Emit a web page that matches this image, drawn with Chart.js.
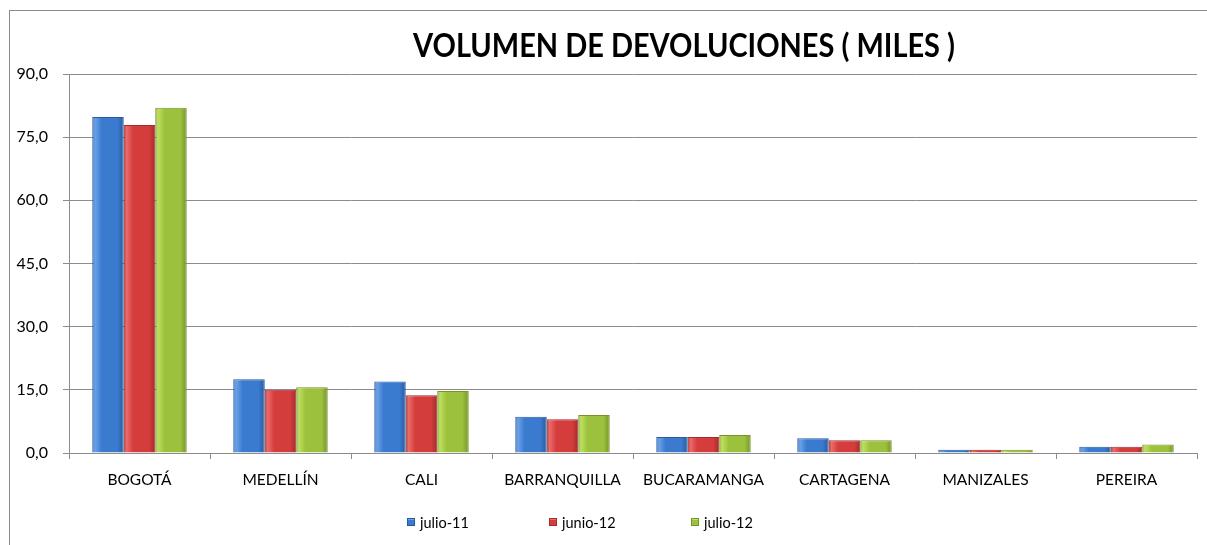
<!DOCTYPE html>
<html>
<head>
<meta charset="utf-8">
<script src="https://cdn.jsdelivr.net/npm/chart.js@4.4.1/dist/chart.umd.min.js"></script>
<style>
  html,body{margin:0;padding:0;background:#fff;}
  #wrap{position:relative;width:1207px;height:545px;}
  #frame{position:absolute;left:9px;top:10px;right:0;bottom:0;border-top:1px solid #8c8c8c;border-left:1px solid #8c8c8c;pointer-events:none;}
  canvas{position:absolute;left:0;top:0;}
</style>
</head>
<body>
<div id="wrap"><canvas id="c" width="1207" height="545"></canvas><div id="frame"></div></div>
<script>
const categories = ["BOGOTÁ","MEDELLÍN","CALI","BARRANQUILLA","BUCARAMANGA","CARTAGENA","MANIZALES","PEREIRA"];
const seriesNames = ["julio-11","junio-12","julio-12"];
const julio11 = [79.8, 17.5, 17.0, 8.6, 3.8, 3.5, 0.8, 1.5];
const junio12 = [77.9, 15.0, 13.7, 8.0, 3.8, 3.0, 0.8, 1.5];
const julio12 = [82.0, 15.6, 14.7, 9.0, 4.3, 3.0, 0.8, 2.0];
const yTicks = [0, 15, 30, 45, 60, 75, 90];
const titleText = "VOLUMEN DE DEVOLUCIONES ( MILES )";

const fills  = ["#3a7acf", "#d53d3d", "#9cc13c"];
const lights = ["#6aa3ea", "#ec6c6c", "#c0e060"];
const darks  = ["#2a5a9c", "#a52c2c", "#77942b"];
const FONT = "Lato, 'Open Sans', sans-serif";
const CAT_PCT = 0.67;

function barFill(i) {
  return function(context) {
    const chart = context.chart;
    const xs = chart.scales && chart.scales.x;
    if (!xs || !chart.chartArea || context.dataIndex === undefined) return fills[i];
    const catW = (xs.right - xs.left) / categories.length;
    const bw = catW * CAT_PCT / 3;
    const cx = xs.getPixelForValue(context.dataIndex) + (i - 1) * bw;
    const g = chart.ctx.createLinearGradient(cx - bw / 2, 0, cx + bw / 2, 0);
    g.addColorStop(0, darks[i]);
    g.addColorStop(0.08, lights[i]);
    g.addColorStop(0.3, fills[i]);
    g.addColorStop(0.8, fills[i]);
    g.addColorStop(1, darks[i]);
    return g;
  };
}

const titlePlugin = {
  id: 'customTitle',
  afterDraw(chart) {
    const ctx = chart.ctx;
    ctx.save();
    ctx.translate(684, 47);
    ctx.scale(0.905, 1);
    ctx.font = "bold 32px " + FONT;
    ctx.fillStyle = "#000";
    ctx.textAlign = "center";
    ctx.textBaseline = "middle";
    ctx.fillText(titleText, 0, 0);
    ctx.restore();
  }
};

const legendPlugin = {
  id: 'customLegend',
  afterDraw(chart) {
    const ctx = chart.ctx;
    ctx.save();
    ctx.font = "14.5px " + FONT;
    ctx.textBaseline = "middle";
    ctx.textAlign = "left";
    const y = 523;
    chart.data.datasets.forEach((ds, i) => {
      const x = 407 + i * 142;
      ctx.fillStyle = fills[i];
      ctx.fillRect(x, y - 5, 8, 8);
      ctx.fillStyle = lights[i];
      ctx.fillRect(x, y - 5, 8, 2);
      ctx.strokeStyle = darks[i];
      ctx.lineWidth = 1;
      ctx.strokeRect(x + 0.5, y - 4.5, 7, 7);
      ctx.fillStyle = "#000";
      ctx.fillText(ds.label, x + 13, y);
    });
    ctx.restore();
  }
};

const datasets = [julio11, junio12, julio12].map((d, i) => ({
  label: seriesNames[i],
  data: d,
  backgroundColor: barFill(i),
  borderColor: darks[i],
  borderWidth: 1,
  barPercentage: 1.0,
  categoryPercentage: CAT_PCT
}));

new Chart(document.getElementById('c'), {
  type: 'bar',
  data: { labels: categories, datasets },
  options: {
    responsive: false,
    animation: false,
    layout: { padding: { left: 0, right: 10, top: 74, bottom: 52 } },
    plugins: { legend: { display: false }, title: { display: false }, tooltip: { enabled: false } },
    scales: {
      x: {
        grid: { offset: true, drawOnChartArea: false, drawTicks: true, tickLength: 6, color: '#8c8c8c' },
        border: { color: '#8c8c8c' },
        ticks: { color: '#000', font: { family: FONT, size: 15.5 }, padding: 12, maxRotation: 0, autoSkip: false },
        afterFit(s) { s.height = 40; }
      },
      y: {
        min: 0, max: 90,
        afterBuildTicks(s) { s.ticks = yTicks.map(v => ({ value: v })); },
        grid: { color: '#8c8c8c', tickLength: 6 },
        border: { color: '#8c8c8c' },
        ticks: { color: '#000', font: { family: FONT, size: 16 }, padding: 15,
                 callback: v => v.toFixed(1).replace('.', ',') },
        afterFit(s) { s.width = 69; }
      }
    }
  },
  plugins: [titlePlugin, legendPlugin]
});
</script>
</body>
</html>
